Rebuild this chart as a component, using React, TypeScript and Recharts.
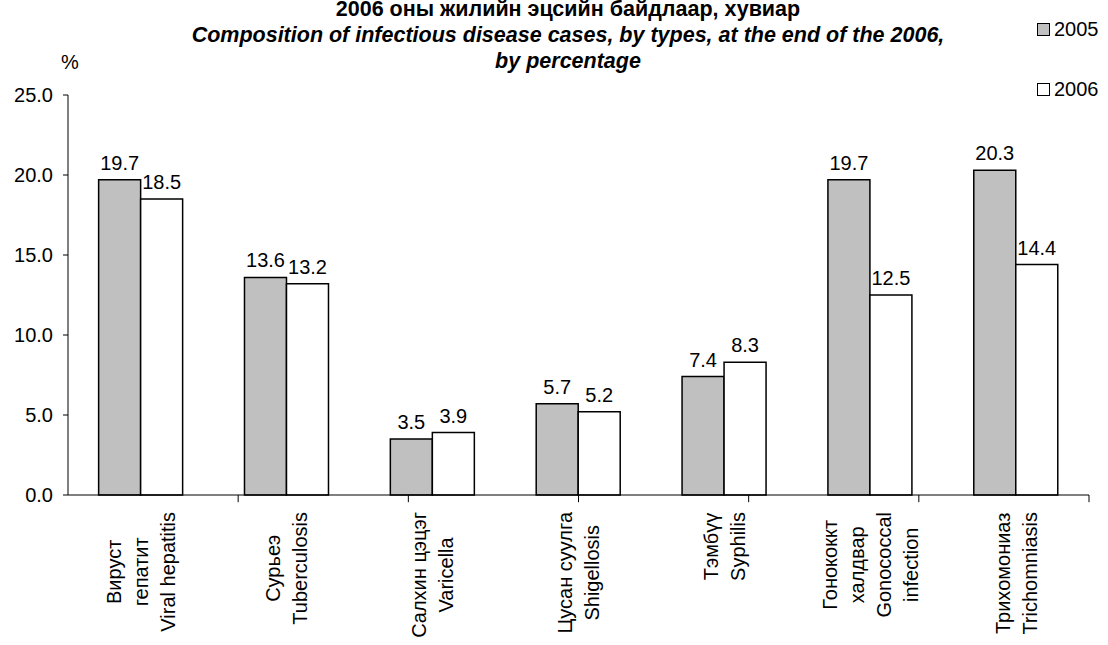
import React from 'react';
import { BarChart, Bar, XAxis, YAxis, LabelList, Legend, ReferenceLine } from 'recharts';

const categories: string[] = [
  'Вируст\nгепатит\nViral hepatitis',
  'Сурьеэ\nTuberculosis',
  'Салхин цэцэг\nVaricella',
  'Цусан суулга\nShigellosis',
  'Тэмбүү\nSyphilis',
  'Гонококкт\nхалдвар\nGonococcal\ninfection',
  'Трихомониаз\nTrichomniasis',
];
const values2005: number[] = [19.7, 13.6, 3.5, 5.7, 7.4, 19.7, 20.3];
const values2006: number[] = [18.5, 13.2, 3.9, 5.2, 8.3, 12.5, 14.4];
const seriesNames = ['2005', '2006'];
const seriesFills = ['#C0C0C0', '#FFFFFF'];
const yTicks: number[] = [0, 5, 10, 15, 20, 25];
const boundaries: number[] = [1, 2, 3, 4, 5, 6, 7];
const titleLine1 = '2006 оны жилийн эцсийн байдлаар, хувиар';
const titleLine2 = 'Composition  of infectious disease cases, by types, at the end of the 2006,';
const titleLine3 = 'by percentage';

const data = categories.map((c, i) => ({ name: c, y2005: values2005[i], y2006: values2006[i] }));

const FONT = '"Liberation Sans", Arial, sans-serif';
const CHART_W = 1108;
const CHART_H = 645;
const MARGIN = { top: 95, right: 19, bottom: 0, left: 0 };
const Y_AXIS_W = 68;
const TICK_DEPTH = -0.45; // in value units, below the zero line

let ctx: CanvasRenderingContext2D | null = null;
const measure = (s: string, font: string) => {
  if (!ctx) ctx = document.createElement('canvas').getContext('2d');
  if (!ctx) return s.length * 10;
  ctx.font = font;
  return ctx.measureText(s).width;
};

const CatTick = (props: any) => {
  const { x, y, payload } = props;
  const lines: string[] = String(payload.value).split('\n');
  const maxLen = Math.max(...lines.map((l) => measure(l, `20px ${FONT}`)));
  const cy = y + 17 + maxLen / 2;
  const n = lines.length;
  return (
    <g transform={`translate(${x},${cy}) rotate(-90)`}>
      {lines.map((l, i) => (
        <text
          key={i}
          x={0}
          y={(i - (n - 1) / 2) * 27}
          textAnchor="middle"
          dominantBaseline="central"
          fontSize={20}
          fontFamily={FONT}
          fill="#000"
        >
          {l}
        </text>
      ))}
    </g>
  );
};

const LegendContent = () => (
  <div style={{ fontFamily: FONT, fontSize: 20, color: '#000' }}>
    {seriesNames.map((n, i) => (
      <div key={n} style={{ display: 'flex', alignItems: 'center', height: 20, marginBottom: i === 0 ? 40 : 0 }}>
        <span
          style={{
            display: 'inline-block',
            width: 11,
            height: 11,
            background: seriesFills[i],
            border: '1px solid #000',
            marginRight: 4,
          }}
        />
        <span>{n}</span>
      </div>
    ))}
  </div>
);

export default function App() {
  return (
    <div style={{ position: 'absolute', left: 0, top: 0, width: CHART_W, height: CHART_H, background: '#fff', overflow: 'hidden' }}>
      <div
        style={{
          position: 'absolute',
          left: 0,
          width: 1136,
          top: 0,
          textAlign: 'center',
          fontFamily: FONT,
          fontWeight: 'bold',
          fontSize: 21.5,
          color: '#000',
          lineHeight: '26px',
          zIndex: 2,
        }}
      >
        <div style={{ marginTop: -4 }}>{titleLine1}</div>
        <div style={{ fontStyle: 'italic' }}>{titleLine2}</div>
        <div style={{ fontStyle: 'italic' }}>{titleLine3}</div>
      </div>
      <div
        style={{
          position: 'absolute',
          left: 61,
          top: 51,
          fontFamily: FONT,
          fontSize: 20,
          color: '#000',
        }}
      >
        %
      </div>
      <BarChart
        width={CHART_W}
        height={CHART_H}
        data={data}
        margin={MARGIN}
        barCategoryGap="21%"
        barGap={0}
      >
        <XAxis
          dataKey="name"
          interval={0}
          tick={<CatTick />}
          tickLine={false}
          tickSize={0}
          tickMargin={0}
          axisLine={{ stroke: '#000' }}
          height={150}
        />
        <XAxis xAxisId="bounds" type="number" domain={[0, 7]} allowDataOverflow hide />
        <YAxis
          width={Y_AXIS_W}
          domain={[0, 25]}
          ticks={yTicks}
          tickFormatter={(v: number) => v.toFixed(1)}
          tick={{ fontSize: 20, fill: '#000', fontFamily: FONT }}
          tickLine={{ stroke: '#000' }}
          tickSize={5}
          tickMargin={10}
          axisLine={{ stroke: '#000' }}
        />
        <Legend
          layout="vertical"
          align="center"
          verticalAlign="middle"
          wrapperStyle={{ position: 'absolute', left: 1037, top: 19, width: 80 }}
          content={<LegendContent />}
        />
        <Bar dataKey="y2005" name={seriesNames[0]} fill={seriesFills[0]} stroke="#000" strokeWidth={1.5} isAnimationActive={false}>
          <LabelList dataKey="y2005" position="top" offset={10} formatter={(v: any) => Number(v).toFixed(1)} style={{ fontSize: 20, fill: '#000', fontFamily: FONT }} />
        </Bar>
        <Bar dataKey="y2006" name={seriesNames[1]} fill={seriesFills[1]} stroke="#000" strokeWidth={1.5} isAnimationActive={false}>
          <LabelList dataKey="y2006" position="top" offset={10} formatter={(v: any) => Number(v).toFixed(1)} style={{ fontSize: 20, fill: '#000', fontFamily: FONT }} />
        </Bar>
        {boundaries.map((b) => (
          <ReferenceLine
            key={b}
            xAxisId="bounds"
            segment={[{ x: b, y: 0 }, { x: b, y: TICK_DEPTH }]}
            stroke="#000"
            strokeWidth={1}
            ifOverflow="visible"
          />
        ))}
      </BarChart>
    </div>
  );
}
